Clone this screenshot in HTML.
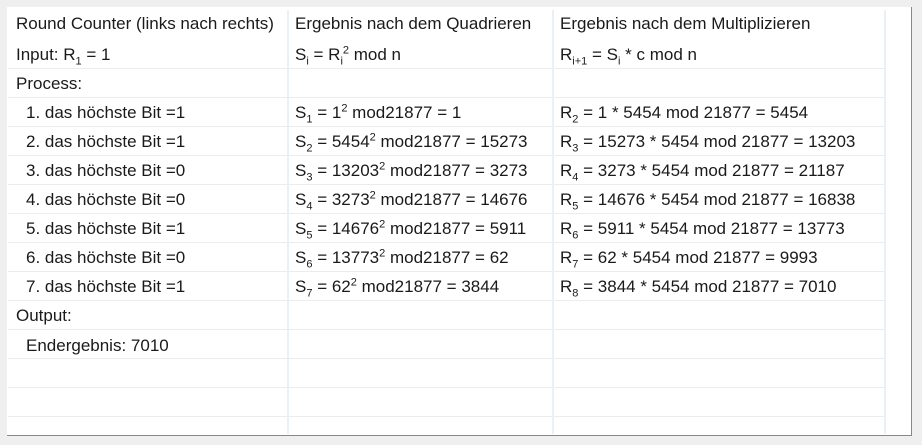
<!DOCTYPE html>
<html><head><meta charset="utf-8"><style>
body{margin:0;width:922px;height:445px;background:#efefef;position:relative;overflow:hidden;font-family:"Liberation Sans",sans-serif;font-size:17px;color:#1a1a1a}
.box{position:absolute;left:7px;top:7px;width:905px;height:429px;background:#fff;border-right:1px solid #858890;border-bottom:1px solid #858890;box-sizing:border-box}
.h{position:absolute;left:8px;width:877px;height:1px;background:#ececec}
.v{position:absolute;top:10px;width:2px;height:424px;background:#eaf0f8}
.t{position:absolute;white-space:nowrap;line-height:20px}
sub,sup{font-size:11px;line-height:0}
</style></head><body>
<div class="box"></div>
<div class="h" style="top:68px"></div><div class="h" style="top:97px"></div><div class="h" style="top:126px"></div><div class="h" style="top:155px"></div><div class="h" style="top:184px"></div><div class="h" style="top:213px"></div><div class="h" style="top:242px"></div><div class="h" style="top:271px"></div><div class="h" style="top:300px"></div><div class="h" style="top:329px"></div><div class="h" style="top:358px"></div><div class="h" style="top:387px"></div><div class="h" style="top:416px"></div>
<div class="v" style="left:287px"></div><div class="v" style="left:552px"></div><div class="v" style="left:884px"></div>

<div class="t" style="left:16px;top:14px">Round Counter (links nach rechts)</div>
<div class="t" style="left:295px;top:14px">Ergebnis nach dem Quadrieren</div>
<div class="t" style="left:560px;top:14px">Ergebnis nach dem Multiplizieren</div>

<div class="t" style="left:16px;top:45px">Input: R<sub>1</sub> = 1</div>
<div class="t" style="left:295px;top:45px">S<sub>i</sub> = R<sub>i</sub><sup>2</sup> mod n</div>
<div class="t" style="left:560px;top:45px">R<sub>i+1</sub> = S<sub>i</sub> * c mod n</div>

<div class="t" style="left:16px;top:74px">Process:</div>

<div class="t" style="left:26px;top:103px">1. das höchste Bit =1</div>
<div class="t" style="left:295px;top:103px">S<sub>1</sub> = 1<sup>2</sup> mod21877 = 1</div>
<div class="t" style="left:560px;top:103px">R<sub>2</sub> = 1 * 5454 mod 21877 = 5454</div>

<div class="t" style="left:26px;top:132px">2. das höchste Bit =1</div>
<div class="t" style="left:295px;top:132px">S<sub>2</sub> = 5454<sup>2</sup> mod21877 = 15273</div>
<div class="t" style="left:560px;top:132px">R<sub>3</sub> = 15273 * 5454 mod 21877 = 13203</div>

<div class="t" style="left:26px;top:161px">3. das höchste Bit =0</div>
<div class="t" style="left:295px;top:161px">S<sub>3</sub> = 13203<sup>2</sup> mod21877 = 3273</div>
<div class="t" style="left:560px;top:161px">R<sub>4</sub> = 3273 * 5454 mod 21877 = 21187</div>

<div class="t" style="left:26px;top:190px">4. das höchste Bit =0</div>
<div class="t" style="left:295px;top:190px">S<sub>4</sub> = 3273<sup>2</sup> mod21877 = 14676</div>
<div class="t" style="left:560px;top:190px">R<sub>5</sub> = 14676 * 5454 mod 21877 = 16838</div>

<div class="t" style="left:26px;top:219px">5. das höchste Bit =1</div>
<div class="t" style="left:295px;top:219px">S<sub>5</sub> = 14676<sup>2</sup> mod21877 = 5911</div>
<div class="t" style="left:560px;top:219px">R<sub>6</sub> = 5911 * 5454 mod 21877 = 13773</div>

<div class="t" style="left:26px;top:248px">6. das höchste Bit =0</div>
<div class="t" style="left:295px;top:248px">S<sub>6</sub> = 13773<sup>2</sup> mod21877 = 62</div>
<div class="t" style="left:560px;top:248px">R<sub>7</sub> = 62 * 5454 mod 21877 = 9993</div>

<div class="t" style="left:26px;top:277px">7. das höchste Bit =1</div>
<div class="t" style="left:295px;top:277px">S<sub>7</sub> = 62<sup>2</sup> mod21877 = 3844</div>
<div class="t" style="left:560px;top:277px">R<sub>8</sub> = 3844 * 5454 mod 21877 = 7010</div>

<div class="t" style="left:16px;top:306px">Output:</div>
<div class="t" style="left:26px;top:336px">Endergebnis: 7010</div>
</body></html>
